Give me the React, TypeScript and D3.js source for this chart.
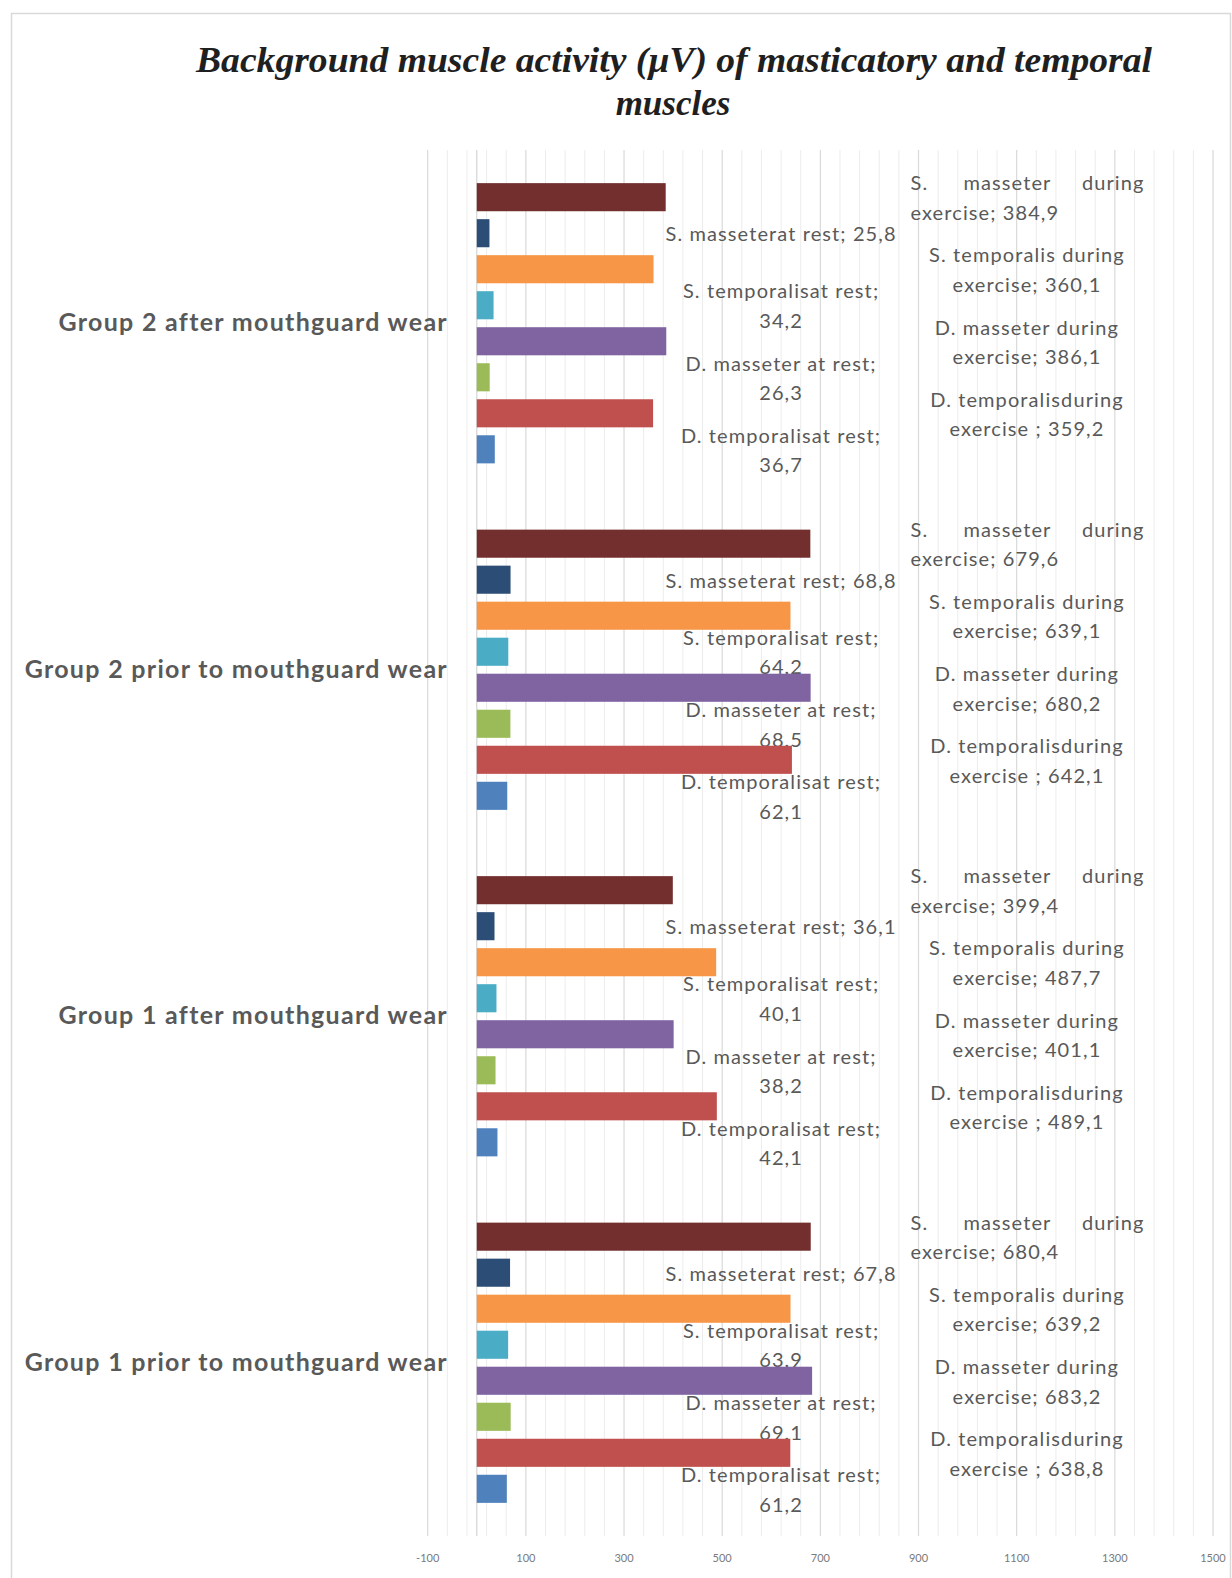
import React from 'react'
import * as d3 from 'd3'

// categories as they appear top to bottom
const categories = [
  'Group 2 after mouthguard wear',
  'Group 2 prior to mouthguard wear',
  'Group 1 after mouthguard wear',
  'Group 1 prior to mouthguard wear',
]

// series top to bottom inside each group
const seriesNames = [
  'S. masseter during exercise',
  'S. masseter at rest',
  'S. temporalis during exercise',
  'S. temporalis at rest',
  'D. masseter during exercise',
  'D. masseter at rest',
  'D. temporalis during exercise',
  'D. temporalis at rest',
]
const seriesColors = ['#722F2D', '#2C4D75', '#F79646', '#4BACC6', '#8064A2', '#9BBB59', '#C0504D', '#4F81BD']

// values per series, in category order above
const sMassEx = [384.9, 679.6, 399.4, 680.4]
const sMassRest = [25.8, 68.8, 36.1, 67.8]
const sTempEx = [360.1, 639.1, 487.7, 639.2]
const sTempRest = [34.2, 64.2, 40.1, 63.9]
const dMassEx = [386.1, 680.2, 401.1, 683.2]
const dMassRest = [26.3, 68.5, 38.2, 69.1]
const dTempEx = [359.2, 642.1, 489.1, 638.8]
const dTempRest = [36.7, 62.1, 42.1, 61.2]
const seriesValues = [sMassEx, sMassRest, sTempEx, sTempRest, dMassEx, dMassRest, dTempEx, dTempRest]

// label text as printed in the source (with its odd spacing)
const labelLines: ((v: string) => string[])[] = [
  v => ['S. masseter during', 'exercise; ' + v],
  v => ['S. masseterat rest; ' + v],
  v => ['S. temporalis during', 'exercise; ' + v],
  v => ['S. temporalisat rest;', v],
  v => ['D. masseter during', 'exercise; ' + v],
  v => ['D. masseter at rest;', v],
  v => ['D. temporalisduring', 'exercise ; ' + v],
  v => ['D. temporalisat rest;', v],
]

const xTicks = d3.range(-100, 1501, 200)
const xMinor = d3.range(-100, 1500, 40).filter(v => (v + 100) % 200 !== 0)

const W = 1232
const H = 1578
const GREY = '#595959'
const LABEL_FONT = 'Lato, "Open Sans", sans-serif'
const fmt = (v: number) => d3.format('.1f')(v).replace('.', ',')

export default function App() {
  const x = d3.scaleLinear().domain([-100, 1500]).range([427.7, 1213])
  const y = d3.scaleBand().domain(categories).range([150, 1536])
  const inner = d3.scaleBand<number>()
    .domain(d3.range(seriesNames.length))
    .range([0, y.bandwidth()])
    .paddingInner(0.22)
    .paddingOuter(0.92)
  const lh = 29.5
  const labelStyle = { fontFamily: LABEL_FONT, fontSize: 20, letterSpacing: 1.1 }

  return (
    <div style={{ position: 'absolute', left: 0, top: 0 }}>
      <svg width={W} height={H} style={{ display: 'block', background: '#fff' }}>
        <rect x={11.5} y={13.5} width={1219} height={1620} fill='#fff' stroke='#d9d9d9' strokeWidth={1.5} />

        <text x={674} y={72} textAnchor='middle' textLength={956} lengthAdjust='spacingAndGlyphs'
          style={{ fontFamily: '"Liberation Serif", serif', fontWeight: 'bold', fontStyle: 'italic', fontSize: 35 }}
          fill='#1f1f1f'>
          Background muscle activity (μV) of masticatory and temporal
        </text>
        <text x={673} y={115} textAnchor='middle'
          style={{ fontFamily: '"Liberation Serif", serif', fontWeight: 'bold', fontStyle: 'italic', fontSize: 35 }}
          fill='#1f1f1f'>
          muscles
        </text>

        {/* grid */}
        <g>
          {xMinor.map(v => <line key={'m' + v} x1={x(v)} x2={x(v)} y1={150} y2={1536} stroke='#ececec' strokeWidth={1} />)}
          {xTicks.map(v => <line key={'t' + v} x1={x(v)} x2={x(v)} y1={150} y2={1536} stroke='#d9d9d9' strokeWidth={1.2} />)}
          <line x1={x(0)} x2={x(0)} y1={150} y2={1536} stroke='#d4d4d4' strokeWidth={1.2} />
        </g>

        {xTicks.map(v => (
          <text key={'l' + v} x={x(v)} y={1562} textAnchor='middle' fill='#7a7a7a'
            style={{ fontFamily: LABEL_FONT, fontSize: 11 }}>{v}</text>
        ))}

        {categories.map(c => (
          <text key={c} x={448} y={y(c)! + y.bandwidth() / 2 + 8} textAnchor='end' fill={GREY}
            style={{ fontFamily: LABEL_FONT, fontWeight: 'bold', fontSize: 25, letterSpacing: 1.3 }}>{c}</text>
        ))}

        {/* data labels (sit under the bars like in the source) */}
        {categories.map((c, ci) => seriesNames.map((s, si) => {
          const v = seriesValues[si][ci]
          const lines = labelLines[si](fmt(v))
          const cy = y(c)! + inner(si)! + inner.bandwidth() / 2
          const exercise = si % 2 === 0
          const cx = exercise ? x(1121) : x(620)
          const top = cy - (lines.length - 1) * lh / 2 + 8
          if (si === 0) {
            const left = x(1122) - 117
            const right = x(1122) + 117
            return (
              <g key={c + s} fill={GREY} style={labelStyle}>
                <text x={left} y={top}>S.</text>
                <text x={(left + right) / 2 - 20} y={top} textAnchor='middle'>masseter</text>
                <text x={right} y={top} textAnchor='end'>during</text>
                <text x={left} y={top + lh}>{lines[1]}</text>
              </g>
            )
          }
          return (
            <text key={c + s} x={cx} y={top} textAnchor='middle' fill={GREY} style={labelStyle}>
              {lines.map((l, i) => <tspan key={i} x={cx} dy={i === 0 ? 0 : lh}>{l}</tspan>)}
            </text>
          )
        }))}

        {/* bars */}
        {categories.map((c, ci) => (
          <g key={'b' + c}>
            {seriesNames.map((s, si) => (
              <rect key={s} x={x(0)} y={y(c)! + inner(si)!}
                width={x(seriesValues[si][ci]) - x(0)} height={inner.bandwidth()}
                fill={seriesColors[si]} />
            ))}
          </g>
        ))}
      </svg>
    </div>
  )
}
